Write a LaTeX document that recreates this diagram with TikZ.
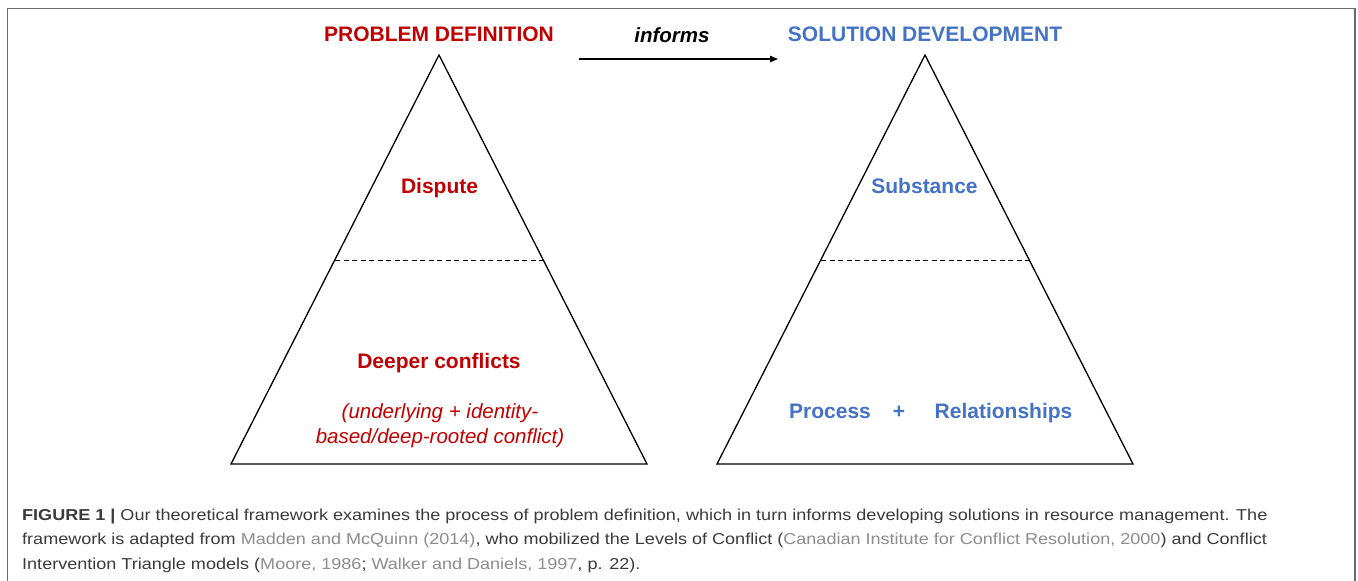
\documentclass[tikz,border=0pt]{standalone}
\usepackage{fontspec}
\setmainfont{Liberation Sans}
\usetikzlibrary{arrows.meta}
\definecolor{pdred}{HTML}{C00000}
\definecolor{sdblue}{HTML}{4472C4}
\definecolor{capgray}{HTML}{3A3A3A}
\definecolor{citegray}{HTML}{8C8C8C}
\definecolor{framegray}{HTML}{6A6A6A}
\newcommand{\citegr}[1]{\textcolor{citegray}{#1}}
\newcommand{\capwide}[1]{\scalebox{1.142}[1]{#1}}
\begin{document}
\begin{tikzpicture}[x=1pt,y=-1pt,
  tri/.style={draw=black, line width=1.3pt, line join=miter},
  divider/.style={draw=black, line width=1pt, dash pattern=on 5pt off 3.5pt},
  bigtext/.style={anchor=base, inner sep=0pt, font=\fontsize{21}{25}\selectfont\bfseries},
  redtext/.style={bigtext, text=pdred},
  bluetext/.style={bigtext, text=sdblue},
  redital/.style={anchor=base, inner sep=0pt, font=\fontsize{20.5}{25}\selectfont\itshape, text=pdred},
  capline/.style={anchor=base west, inner sep=0pt, font=\fontsize{15.8}{19}\selectfont, text=capgray},
  flow/.style={draw=black, line width=1.3pt, -{Triangle[length=8pt,width=6.5pt]}}
]
\useasboundingbox (0,0) rectangle (1358,581);
% frame
\draw[framegray, line width=1.5pt] (7.5,581) -- (7.5,8.7) -- (1355,8.7) -- (1355,581);

% left triangle
\coordinate (LA) at (439,55);
\coordinate (LB) at (231,464);
\coordinate (LC) at (647,464);
\coordinate (LD1) at (335,260);
\coordinate (LD2) at (543,260);
\draw[tri] (LA) -- (LB) -- (LC) -- cycle;
\draw[divider] (LD1) -- (LD2);

% right triangle
\coordinate (RA) at (925,55);
\coordinate (RB) at (717,464);
\coordinate (RC) at (1133,464);
\coordinate (RD1) at (821,260);
\coordinate (RD2) at (1029,260);
\draw[tri] (RA) -- (RB) -- (RC) -- cycle;
\draw[divider] (RD1) -- (RD2);

% headings
\node[redtext] (pd) at (439,41.5) {PROBLEM DEFINITION};
\node[bluetext] (sd) at (925,41.5) {SOLUTION DEVELOPMENT};
\node[anchor=base, inner sep=0pt, font=\fontsize{20.5}{25}\selectfont\bfseries\itshape] (inf) at (672,42) {informs};
\coordinate (arrS) at (579,59);
\coordinate (arrE) at (778,59);
\draw[flow] (arrS) -- (arrE);

% left labels
\node[redtext] (disp) at (439.5,193) {Dispute};
\node[redtext] (deep) at (439,368) {Deeper conflicts};
\node[redital] (und1) at (440,418) {(underlying + identity-};
\node[redital] (und2) at (440,443.5) {based/deep-rooted conflict)};

% right labels
\node[bluetext] (subs) at (924.5,193) {Substance};
\node[bluetext] (proc) at (830,418) {Process};
\node[bluetext] (plus) at (899,418) {+};
\node[bluetext] (rel) at (1003.5,418) {Relationships};

% caption
\node[capline] (cap1) at (22,520) {\capwide{\textbf{FIGURE 1 |} Our theoretical framework examines the process of problem definition, which in turn informs developing solutions in resource management. The}};
\node[capline] (cap2) at (22,544.5) {\capwide{framework is adapted from \citegr{Madden and McQuinn (2014)}, who mobilized the Levels of Conflict (\citegr{Canadian Institute for Conflict Resolution, 2000}) and Conflict}};
\node[capline] (cap3) at (22,569) {\capwide{Intervention Triangle models (\citegr{Moore, 1986}; \citegr{Walker and Daniels, 1997}, p. 22).}};
\end{tikzpicture}
\end{document}
